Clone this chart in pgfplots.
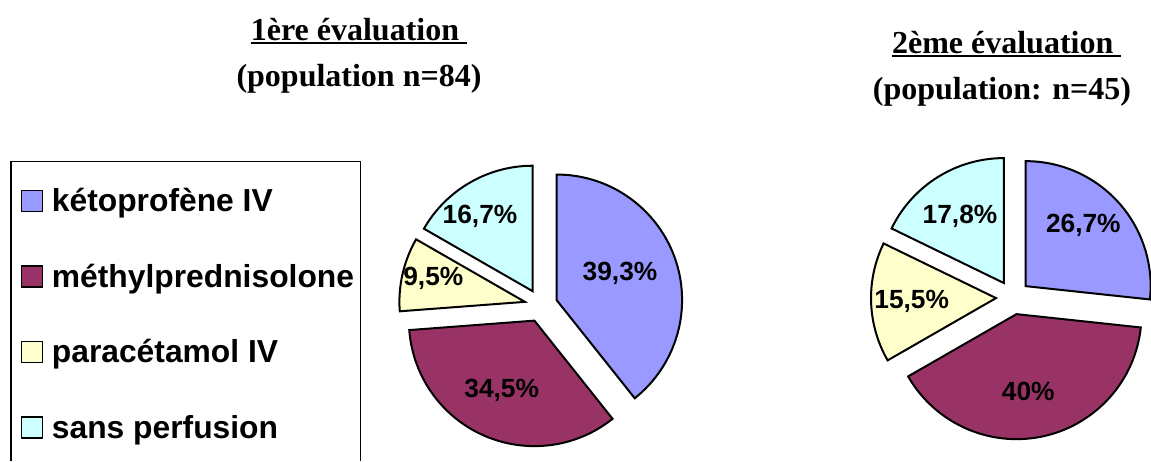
\documentclass[border=0pt]{standalone}
\usepackage{fontspec}
\setmainfont{Liberation Serif}
\newfontfamily\arial{Liberation Sans}
\usepackage{pgfplots}
\pgfplotsset{compat=1.18}
\usepackage{pgfplotstable}

\definecolor{keto}{HTML}{9999FF}
\definecolor{methyl}{HTML}{993366}
\definecolor{para}{HTML}{FFFFCC}
\definecolor{sansp}{HTML}{CCFFFF}

\newcommand\slicefont{\arial\bfseries\fontsize{26.3}{30}\selectfont}
\newcommand\legfont{\arial\bfseries\fontsize{31.8}{36}\selectfont}
\newcommand\titlefont{\bfseries\fontsize{32}{36}\selectfont}
\newcommand\ul[1]{\setbox0\hbox{#1}\rlap{\rule[-3.8pt]{\wd0}{2.2pt}}\box0}

% share in percent, label position (px, y up)
\pgfplotstableread{
pct  lx    ly
39.3 620.0 187.7
34.5 501.7 71.0
9.5  433.3 182.7
16.7 480.0 244.3
}\evalA
\pgfplotstableread{
pct  lx     ly
26.7 1083.3 236.0
40.0 1028.3 69.3
15.5 911.7  159.3
17.8 960.0  244.3
}\evalB

% #1 table, #2 #3 centre, #4 radius, #5 explosion
\newcommand\drawpie[5]{%
  \def\pieangle{90}%
  \pgfplotsforeachungrouped \i/\col in {0/keto,1/methyl,2/para,3/sansp}{%
    \pgfplotstablegetelem{\i}{pct}\of{#1}\let\pct\pgfplotsretval
    \pgfplotstablegetelem{\i}{lx}\of{#1}\let\lx\pgfplotsretval
    \pgfplotstablegetelem{\i}{ly}\of{#1}\let\ly\pgfplotsretval
    \pgfmathsetmacro\aend{\pieangle-3.6*\pct}%
    \pgfmathsetmacro\amid{(\pieangle+\aend)/2}%
    \pgfmathsetmacro\ax{#2+#5*cos(\amid)}%
    \pgfmathsetmacro\ay{#3+#5*sin(\amid)}%
    \pgfmathsetmacro\sx{\ax+#4*cos(\pieangle)}%
    \pgfmathsetmacro\sy{\ay+#4*sin(\pieangle)}%
    \edef\cmd{%
      \noexpand\filldraw[fill=\col,draw=black,line width=2pt]
        (axis cs:\ax,\ay) -- (axis cs:\sx,\sy)
        arc[start angle=\pieangle,end angle=\aend,radius=#4pt] -- cycle;
      \noexpand\node[font=\noexpand\slicefont] at (axis cs:\lx,\ly)
        {\noexpand\pgfmathprintnumber[assume math mode=true,use comma]{\pct}\noexpand\%};
    }%
    \cmd
    \let\pieangle\aend
  }%
}

\begin{document}
\begin{tikzpicture}
\begin{axis}[
  x=1pt, y=1pt,
  xmin=0, xmax=1151, ymin=0, ymax=461,
  hide axis,
]
\addplot[draw=none] coordinates {(0,0) (1151,461)};

\drawpie{\evalA}{541}{155.5}{125.5}{16.5}
\drawpie{\evalB}{1013}{163.5}{125}{17}

% titles
\node[font=\titlefont, anchor=base] at (axis cs:359,420.3) {\ul{1ère évaluation\ }};
\node[font=\titlefont, anchor=base] at (axis cs:359,374.3) {(population n=84)};
\node[font=\titlefont, anchor=base] at (axis cs:1006.7,407.7) {\ul{2ème évaluation\ }};
\node[font=\titlefont, anchor=base] at (axis cs:1002,361.7) {(population: n=45)};

% legend (box runs past the bottom edge)
\draw[line width=1.5pt] (axis cs:11,0) -- (axis cs:11,299.3) -- (axis cs:360.7,299.3) -- (axis cs:360.7,0);
\filldraw[fill=keto, line width=1.5pt]   (axis cs:21.7,249.3) rectangle (axis cs:42.7,270.3);
\filldraw[fill=methyl, line width=1.5pt] (axis cs:21.7,173.8) rectangle (axis cs:42.7,194.8);
\filldraw[fill=para, line width=1.5pt]   (axis cs:21.7,98.3) rectangle (axis cs:42.7,119.3);
\filldraw[fill=sansp, line width=1.5pt]  (axis cs:21.7,22.8) rectangle (axis cs:42.7,43.8);
\node[font=\legfont, anchor=base west, inner sep=0pt] at (axis cs:51.7,249.3) {kétoprofène IV};
\node[font=\legfont, anchor=base west, inner sep=0pt] at (axis cs:51.7,173.8) {méthylprednisolone};
\node[font=\legfont, anchor=base west, inner sep=0pt] at (axis cs:51.7,98.3) {paracétamol IV};
\node[font=\legfont, anchor=base west, inner sep=0pt] at (axis cs:51.7,22.8) {sans perfusion};
\end{axis}
\end{tikzpicture}
\end{document}
